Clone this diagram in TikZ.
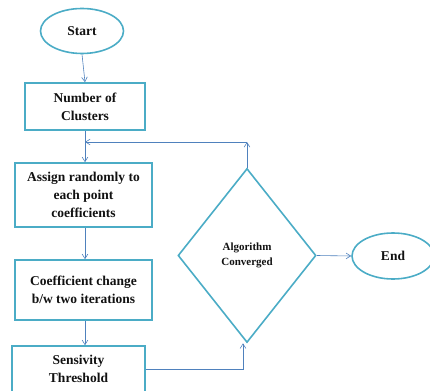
\documentclass[tikz,border=0pt]{standalone}
\usepackage{fontspec}
\setmainfont{Liberation Serif}
\usepackage{xcolor}
\usepackage{tikz}
\usetikzlibrary{arrows.meta,positioning,shapes.geometric,calc}
\definecolor{ChartTeal}{HTML}{4BACC6}
\definecolor{ChartBlue}{HTML}{4F81BD}
\definecolor{ChartText}{HTML}{111111}
\tikzset{
  procbox/.style={draw=ChartTeal,line width=1.6pt,rectangle,align=center,inner sep=3pt,font=\fontsize{13.5}{18}\selectfont\bfseries,text=ChartText},
  termnode/.style={draw=ChartTeal,line width=1.6pt,ellipse,inner sep=0pt,font=\fontsize{13.5}{16}\selectfont\bfseries,text=ChartText},
  decnode/.style={draw=ChartTeal,line width=1.6pt,diamond,inner sep=0pt,align=center,font=\fontsize{11}{15}\selectfont\bfseries,text=ChartText},
  flowarrow/.style={-{Straight Barb[length=1.6mm,width=2mm]},line width=0.6pt,draw=ChartBlue}
}
\begin{document}
\begin{tikzpicture}
\useasboundingbox (0,0) rectangle (430pt,-390pt);
\node[termnode,minimum width=83pt,minimum height=45pt] (start) at (82pt,-31pt) {Start};
\node[procbox,minimum width=120pt,minimum height=47pt] (clusters) at (85pt,-106.5pt) {Number of\\Clusters};
\node[procbox,minimum width=137pt,minimum height=64pt] (assign) at (83.5pt,-195pt) {Assign randomly to\\each point\\coefficients};
\node[procbox,minimum width=137pt,minimum height=60pt] (coeff) at (83.5pt,-290pt) {Coefficient change\\b/w two iterations};
\node[procbox,minimum width=133pt,minimum height=46pt] (sens) at (78.5pt,-369pt) {Sensivity\\Threshold};
\node[decnode,minimum width=138pt,minimum height=174pt] (conv) at (247pt,-255.5pt) {Algorithm\\Converged};
\node[termnode,minimum width=82pt,minimum height=46pt] (end) at (393pt,-256pt) {End};
\coordinate (back) at (conv.north |- 0,-142pt);
% main chain
\draw[flowarrow] (start.south) -- (clusters.north);
\draw[flowarrow] (clusters.south) -- (clusters.south |- assign.north);
\draw[flowarrow] (clusters.south |- assign.south) -- (clusters.south |- coeff.north);
\draw[flowarrow] (clusters.south |- coeff.south) -- (clusters.south |- sens.north);
% test and feedback
\draw[flowarrow] (sens.east) -| ($(conv.south)+(-4pt,0)$);
\draw[flowarrow] (conv.north) -- (back);
\draw[flowarrow] (back) -- (back -| clusters.south);
\draw[flowarrow] (conv.east) -- (end.west);
\end{tikzpicture}
\end{document}
